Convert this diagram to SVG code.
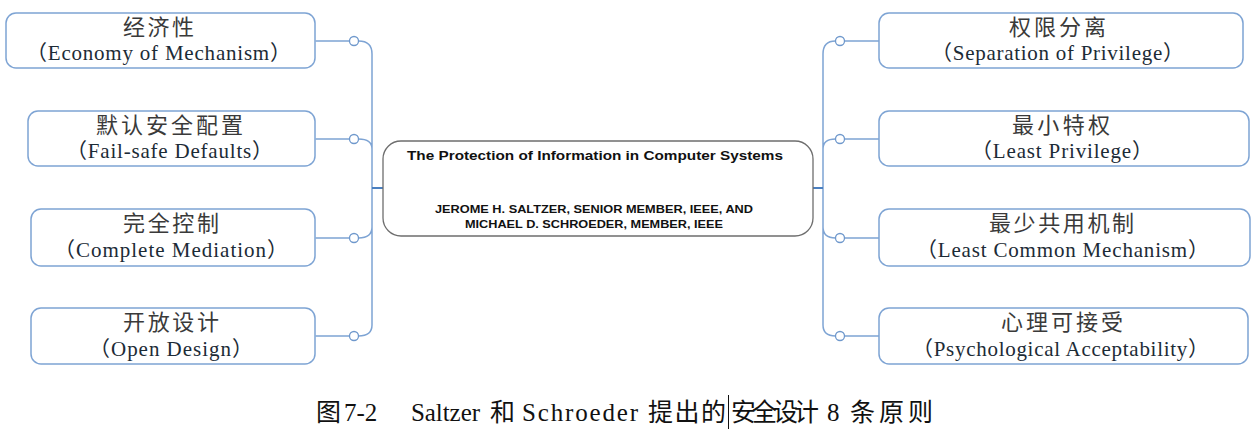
<svg xmlns="http://www.w3.org/2000/svg" width="1255" height="430" viewBox="0 0 1255 430">
<style>
.box{fill:#fff;stroke:#7ea4d4;stroke-width:1.5}
.cbox{fill:#fff;stroke:#6e6e6e;stroke-width:1.3}
.cn{font-family:"Noto Sans CJK SC",sans-serif;font-size:22px;fill:#3a3a3a;text-anchor:middle}
.en{font-family:"Liberation Serif","Noto Sans CJK SC",serif;font-size:21px;fill:#1c2b36;text-anchor:middle}
.ct{font-family:"Liberation Sans",Arial,sans-serif;font-weight:bold;fill:#111;text-anchor:middle}
.ln{fill:none;stroke:#7ea4d4;stroke-width:1.5}
.jn{fill:none;stroke:#4a7fc0;stroke-width:2}
.dot{fill:#fff;stroke:#6f98cc;stroke-width:1.3}
.cap{font-family:"Liberation Serif","Noto Sans CJK SC",serif;font-size:25px;fill:#111}
.capc{font-family:"Noto Sans CJK SC",sans-serif;font-size:25px;fill:#111}
</style>
<rect width="1255" height="430" fill="#fff"/>
<g id="connectors">
<path class="ln" d="M315.5,41H350M315.5,139H350M315.5,238H350M315.5,336H350"/>
<path class="ln" d="M358.5,41Q372,41 372,54V325Q372,336 358.5,336M358.5,139Q372,139 372,149M358.5,238Q372,238 372,227"/>
<path class="jn" d="M372,188H383"/>
<path class="ln" d="M844.5,41H879M844.5,139H879M844.5,238H879M844.5,336H879"/>
<path class="ln" d="M835.5,41Q823,41 823,54V325Q823,336 835.5,336M835.5,139Q823,139 823,149M835.5,238Q823,238 823,227"/>
<path class="jn" d="M813,188H823"/>
<circle class="dot" cx="354" cy="41" r="4.5"/>
<circle class="dot" cx="354" cy="139" r="4.5"/>
<circle class="dot" cx="354" cy="238" r="4.5"/>
<circle class="dot" cx="354" cy="336" r="4.5"/>
<circle class="dot" cx="840" cy="41" r="4.5"/>
<circle class="dot" cx="840" cy="139" r="4.5"/>
<circle class="dot" cx="840" cy="238" r="4.5"/>
<circle class="dot" cx="840" cy="336" r="4.5"/>
</g>
<g id="center">
<rect class="cbox" x="383" y="141" width="430" height="95" rx="18"/>
<text class="ct" x="595" y="160" font-size="12.5" textLength="376" lengthAdjust="spacingAndGlyphs">The Protection of Information in Computer Systems</text>
<text class="ct" x="594" y="213" font-size="11.5" textLength="318" lengthAdjust="spacingAndGlyphs">JEROME H. SALTZER, SENIOR MEMBER, IEEE, AND</text>
<text class="ct" x="594" y="228" font-size="11.5" textLength="258" lengthAdjust="spacingAndGlyphs">MICHAEL D. SCHROEDER, MEMBER, IEEE</text>
</g>
<g id="n-economy">
<rect class="box" x="6" y="13" width="309" height="55" rx="10"/>
<text class="cn" x="158.5" y="35" textLength="71">经济性</text>
<text class="en" x="158.5" y="60" textLength="265">（Economy of Mechanism）</text>
</g>
<g id="n-failsafe">
<rect class="box" x="28" y="111" width="287" height="55" rx="10"/>
<text class="cn" x="169.5" y="133" textLength="147">默认安全配置</text>
<text class="en" x="169.5" y="158" textLength="207">（Fail-safe Defaults）</text>
</g>
<g id="n-complete">
<rect class="box" x="31" y="209" width="284" height="57" rx="10"/>
<text class="cn" x="171" y="231" textLength="96">完全控制</text>
<text class="en" x="171" y="257" textLength="234">（Complete Mediation）</text>
</g>
<g id="n-open">
<rect class="box" x="31" y="308" width="284" height="56" rx="10"/>
<text class="cn" x="171" y="330" textLength="96">开放设计</text>
<text class="en" x="171" y="356" textLength="164">（Open Design）</text>
</g>
<g id="n-separation">
<rect class="box" x="879" y="13" width="364" height="55" rx="10"/>
<text class="cn" x="1057.5" y="35" textLength="97">权限分离</text>
<text class="en" x="1057.5" y="60" textLength="253">（Separation of Privilege）</text>
</g>
<g id="n-least">
<rect class="box" x="879" y="111" width="370" height="55" rx="10"/>
<text class="cn" x="1061" y="133" textLength="98">最小特权</text>
<text class="en" x="1062" y="158" textLength="182">（Least Privilege）</text>
</g>
<g id="n-common">
<rect class="box" x="879" y="209" width="371" height="57" rx="10"/>
<text class="cn" x="1061.5" y="231" textLength="145">最少共用机制</text>
<text class="en" x="1062.5" y="257" textLength="293">（Least Common Mechanism）</text>
</g>
<g id="n-psych">
<rect class="box" x="879" y="308" width="369" height="56" rx="10"/>
<text class="cn" x="1062" y="330" textLength="122">心理可接受</text>
<text class="en" x="1060.5" y="356" textLength="297">（Psychological Acceptability）</text>
</g>
<g id="caption">
<text class="capc" x="316" y="421">图</text>
<text class="cap" x="344" y="421">7-2</text>
<text class="cap" x="411" y="421" textLength="69">Saltzer</text>
<text class="capc" x="490" y="421">和</text>
<text class="cap" x="522" y="421" textLength="116">Schroeder</text>
<text class="capc" x="648" y="421" textLength="78">提出的</text>
<line x1="728.5" y1="395" x2="728.5" y2="429" stroke="#111" stroke-width="1"/>
<text class="capc" x="731" y="421" textLength="88">安全设计</text>
<text class="cap" x="827" y="421">8</text>
<text class="capc" x="850" y="421" letter-spacing="4">条原则</text>
</g>
</svg>
